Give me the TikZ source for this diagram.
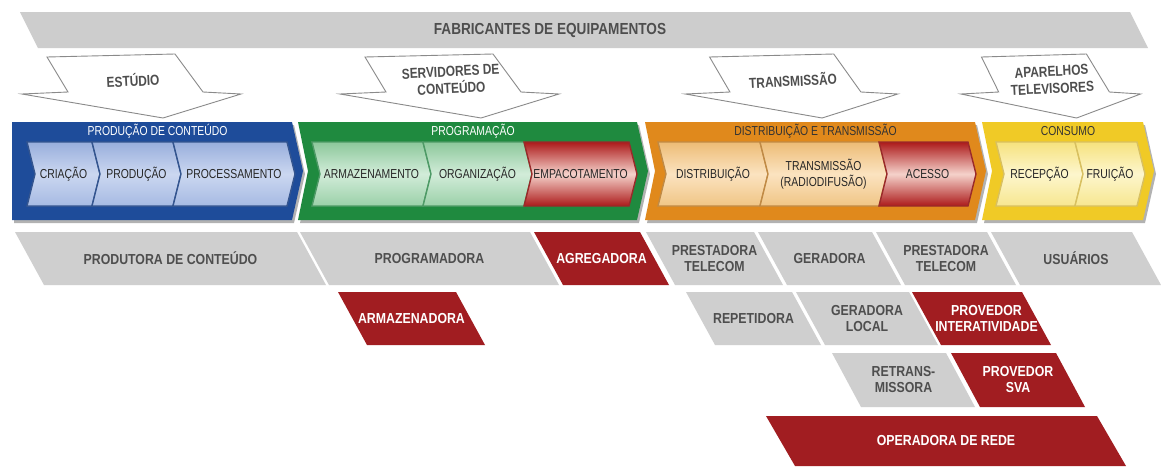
\documentclass[tikz,border=0pt]{standalone}
\usepackage{fontspec}
\setmainfont{Liberation Sans}
\newfontfamily\condreg[FakeStretch=0.8]{Liberation Sans}
\newfontfamily\condbold[FakeStretch=0.85]{Liberation Sans}
\newfontfamily\condarrow[FakeStretch=0.82]{Liberation Sans}
\usetikzlibrary{shadows}
\definecolor{boxgray}{HTML}{CFCFCF}
\definecolor{boxred}{HTML}{A11D21}
\definecolor{txtgray}{HTML}{4E4E4E}
\definecolor{arrgray}{HTML}{8A8A8A}
\definecolor{bannergray}{HTML}{CDCDCD}
\definecolor{barblue}{HTML}{1E4C9A}
\definecolor{linblue}{HTML}{34558F}
\definecolor{bluetop}{HTML}{98AEDC}
\definecolor{bluemid}{HTML}{CBD7F0}
\definecolor{bluebot}{HTML}{A6BAE3}
\definecolor{bargreen}{HTML}{1F8A3F}
\definecolor{lingreen}{HTML}{4E9A66}
\definecolor{greentop}{HTML}{8CC89B}
\definecolor{greenmid}{HTML}{D2ECD9}
\definecolor{greenbot}{HTML}{9AD0A8}
\definecolor{barorange}{HTML}{E0891C}
\definecolor{linorange}{HTML}{C08A45}
\definecolor{orangetop}{HTML}{EDBC76}
\definecolor{orangemid}{HTML}{FBE3C0}
\definecolor{orangebot}{HTML}{F0C585}
\definecolor{baryellow}{HTML}{F0CA26}
\definecolor{linyellow}{HTML}{D8C060}
\definecolor{yellowtop}{HTML}{F6E27E}
\definecolor{yellowmid}{HTML}{FDF6CD}
\definecolor{yellowbot}{HTML}{F7E68F}
\definecolor{redtop}{HTML}{AC1A1A}
\definecolor{redmid}{HTML}{F5D2CB}
\definecolor{linred}{HTML}{9A2A2A}

\tikzset{
  boxtext/.style={font=\condbold\bfseries\fontsize{14.5}{16}\selectfont, align=center, inner sep=0pt},
  graytext/.style={boxtext, text=txtgray},
  redtext/.style={boxtext, text=white},
  graybox/.style={fill=boxgray},
  redbox/.style={fill=boxred},
  chevtext/.style={font=\condreg\fontsize{13}{16}\selectfont, text=black!85, align=center, inner sep=0pt},
  headtext/.style={font=\condreg\fontsize{13}{14}\selectfont, inner sep=0pt},
  arrowshape/.style={fill=white, draw=arrgray, line width=0.9pt, line join=miter},
  arrowtext/.style={font=\condarrow\bfseries\fontsize{14.5}{17}\selectfont, text=txtgray, align=center, rotate=3, inner sep=0pt},
  bannertext/.style={font=\condbold\bfseries\fontsize{16}{17}\selectfont, text=txtgray, inner sep=0pt},
  barshadow/.style={drop shadow={shadow xshift=2pt, shadow yshift=-3pt, opacity=0.3, fill=black}},
  blueshade/.style={top color=bluetop, bottom color=bluebot, middle color=bluemid},
  greenshade/.style={top color=greentop, bottom color=greenbot, middle color=greenmid},
  orangeshade/.style={top color=orangetop, bottom color=orangebot, middle color=orangemid},
  yellowshade/.style={top color=yellowtop, bottom color=yellowbot, middle color=yellowmid},
  redshade/.style={top color=redtop, bottom color=redtop, middle color=redmid},
}

% parallelogram box: name, x top-left, x top-right, y top, y bottom, box style, text style, text
\newcommand{\pbox}[8]{%
  \path[#6] (#2,#4) -- (#3,#4) -- ({#3+29},#5) -- ({#2+29},#5) -- cycle;
  \node[#7] (#1) at ({(#2+#3)/2+14.5},{(#4+#5)/2}) {#8};
}
% inner chevron: name, x left, x right, shading style, text, line colour
\newcommand{\chev}[6]{%
  \path[#4, draw=#6, line width=1.4pt, line join=miter] (#2,142) -- (#3,142) -- ({#3+8},174) -- (#3,206) -- (#2,206) -- ({#2+8},174) -- cycle;
  \node[chevtext] (#1) at ({(#2+#3)/2+4},174) {#5};
}
% phase bar: name, x left, x right, notch, fill colour, header, header colour
\newcommand{\phasebar}[7]{%
  \path[fill=#5, barshadow] (#2,122) -- (#3,122) -- ({#3+11},171) -- (#3,220) -- (#2,220) -- ({#2+#4},171) -- cycle;
  \node[headtext, text=#7] (#1) at ({(#2+#3+11)/2},131) {#6};
}
% down arrow: name, centre x, x scale, text
\newcommand{\tvarrow}[4]{%
  \begin{scope}[shift={(#2,0)}]
    \path[arrowshape] ({-86*#3},57) -- ({42*#3},54) -- ({70*#3},92) -- ({108*#3},94) -- ({30*#3},118) -- ({-111*#3},94) -- ({-65*#3},92) -- cycle;
    \node[arrowtext] (#1) at (0,80) {#4};
  \end{scope}
}

\begin{document}
\begin{tikzpicture}[x=1pt,y=-1pt]
\useasboundingbox[fill=white] (0,0) rectangle (1161,466);

% banner
\path[fill=bannergray] (20,12) -- (1130,12) -- (1148,48) -- (38,48) -- cycle;
\node[bannertext] (fab) at (550,30) {FABRICANTES DE EQUIPAMENTOS};

% arrows
\tvarrow{estudio}{133}{1}{ESTÚDIO}
\tvarrow{servidores}{451}{1}{SERVIDORES DE\\CONTEÚDO}
\tvarrow{transm}{793}{0.97}{TRANSMISSÃO}
\tvarrow{aparelhos}{1052}{0.82}{APARELHOS\\TELEVISORES}

% phase bars
\phasebar{hprod}{12}{292}{0}{barblue}{PRODUÇÃO DE CONTEÚDO}{white}
\phasebar{hprog}{298}{637}{10}{bargreen}{PROGRAMAÇÃO}{white}
\phasebar{hdist}{645}{975}{10}{barorange}{DISTRIBUIÇÃO E TRANSMISSÃO}{black!80}
\phasebar{hcons}{982}{1143}{10}{baryellow}{CONSUMO}{black!80}

% inner chevrons
\chev{criacao}{27}{92}{blueshade}{CRIAÇÃO}{linblue}
\chev{producao}{92}{173}{blueshade}{PRODUÇÃO}{linblue}
\chev{processamento}{173}{287}{blueshade}{PROCESSAMENTO}{linblue}

\chev{armazenamento}{312}{423}{greenshade}{ARMAZENAMENTO}{lingreen}
\chev{organizacao}{423}{524}{greenshade}{ORGANIZAÇÃO}{lingreen}
\chev{empacotamento}{524}{629}{redshade}{EMPACOTAMENTO}{linred}

\chev{distribuicao}{658}{760}{orangeshade}{DISTRIBUIÇÃO}{linorange}
\chev{transmissao}{760}{879}{orangeshade}{TRANSMISSÃO\\(RADIODIFUSÃO)}{linorange}
\chev{acesso}{879}{968}{redshade}{ACESSO}{linred}

\chev{recepcao}{996}{1075}{yellowshade}{RECEPÇÃO}{linyellow}
\chev{fruicao}{1075}{1137}{yellowshade}{FRUIÇÃO}{linyellow}

% row 1
\pbox{produtora}{15}{297}{232}{285}{graybox}{graytext}{PRODUTORA DE CONTEÚDO}
\pbox{programadora}{300}{530}{232}{285}{graybox}{graytext}{PROGRAMADORA}
\pbox{agregadora}{534}{640}{232}{285}{redbox}{redtext}{AGREGADORA}
\pbox{prestadora1}{646}{754}{232}{285}{graybox}{graytext}{PRESTADORA\\TELECOM}
\pbox{geradora}{758}{872}{232}{285}{graybox}{graytext}{GERADORA}
\pbox{prestadora2}{876}{987}{232}{285}{graybox}{graytext}{PRESTADORA\\TELECOM}
\pbox{usuarios}{991}{1132}{232}{285}{graybox}{graytext}{USUÁRIOS}

% row 2
\pbox{armazenadora}{338}{456}{292}{345}{redbox}{redtext}{ARMAZENADORA}
\pbox{repetidora}{686}{792}{292}{345}{graybox}{graytext}{REPETIDORA}
\pbox{geradoralocal}{796}{909}{292}{345}{graybox}{graytext}{GERADORA\\LOCAL}
\pbox{provint}{912}{1022}{292}{345}{redbox}{redtext, xshift=5pt}{PROVEDOR\\INTERATIVIDADE}

% row 3
\pbox{retrans}{832}{946}{353}{407}{graybox}{graytext}{RETRANS-\\MISSORA}
\pbox{provsva}{951}{1056}{353}{407}{redbox}{redtext}{PROVEDOR\\SVA}

% row 4
\pbox{operadora}{766}{1097}{416}{466}{redbox}{redtext}{OPERADORA DE REDE}
\end{tikzpicture}
\end{document}
